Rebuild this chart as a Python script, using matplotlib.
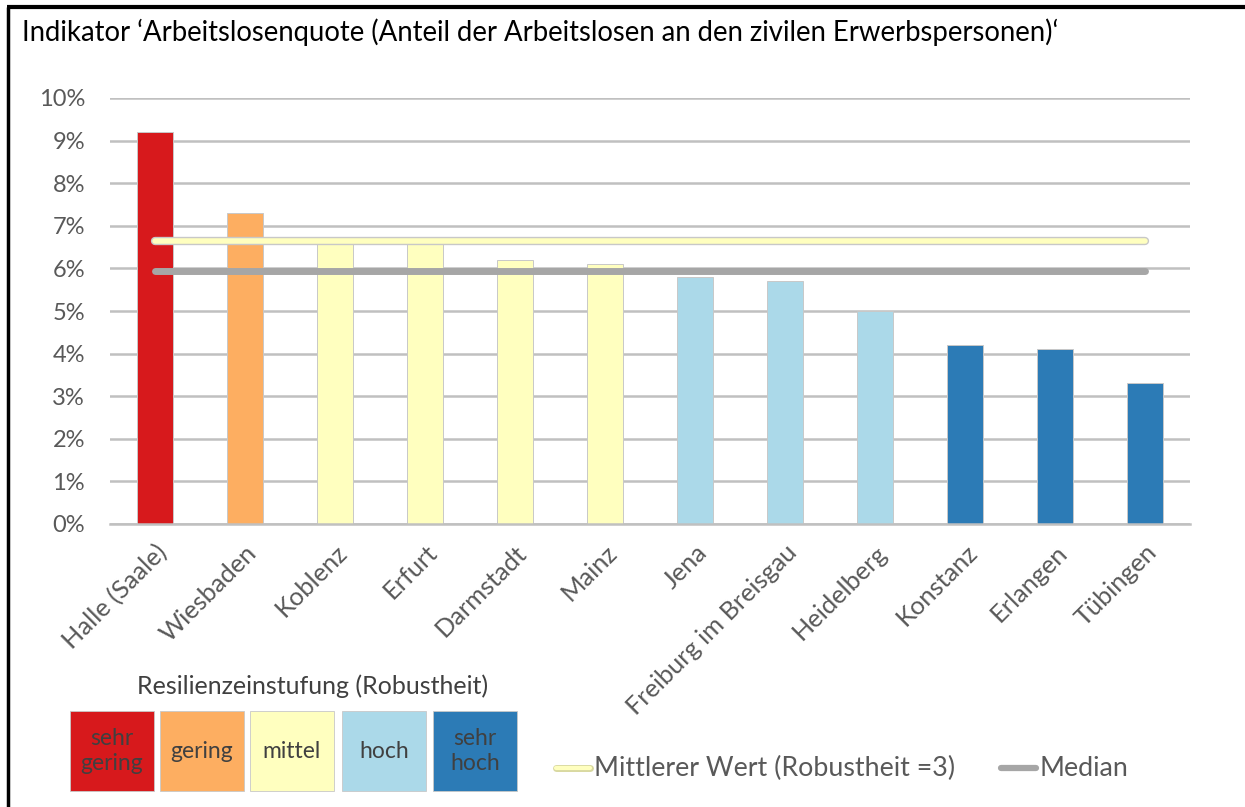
import matplotlib.pyplot as plt
import matplotlib.patheffects as pe
from matplotlib.patches import Rectangle
from matplotlib.lines import Line2D

plt.rcParams['font.family'] = ['Lato', 'DejaVu Sans']

# data
cities = ['Halle (Saale)', 'Wiesbaden', 'Koblenz', 'Erfurt', 'Darmstadt', 'Mainz',
          'Jena', 'Freiburg im Breisgau', 'Heidelberg', 'Konstanz', 'Erlangen', 'Tübingen']
quote = [9.2, 7.3, 6.6, 6.6, 6.2, 6.1, 5.8, 5.7, 5.0, 4.2, 4.1, 3.3]
stufe = [1, 2, 3, 3, 3, 3, 4, 4, 4, 5, 5, 5]
mittlerer_wert = 6.65
median_wert = 5.95

stufen_namen = ['sehr\ngering', 'gering', 'mittel', 'hoch', 'sehr\nhoch']
stufen_farben = ['#D7191C', '#FDAE61', '#FFFFBF', '#ABD9E9', '#2C7BB6']

W, H = 1245, 807
fig = plt.figure(figsize=(W / 100, H / 100), dpi=100)
ax = fig.add_axes([110 / W, (H - 524) / H, 1080 / W, 426 / H])

x = range(len(cities))
cols = [stufen_farben[s - 1] for s in stufe]
ax.bar(x, quote, width=0.4, color=cols, edgecolor='#C8C8C8', linewidth=0.7, zorder=2)

ax.plot([0, len(cities) - 1], [mittlerer_wert] * 2, color='#FFFFBF', lw=4, solid_capstyle='round',
        zorder=3, path_effects=[pe.Stroke(linewidth=6, foreground='#C8C8C8'), pe.Normal()])
ax.plot([0, len(cities) - 1], [median_wert] * 2, color='#A6A6A6', lw=5, solid_capstyle='round', zorder=3)

ax.set_xlim(-0.5, len(cities) - 0.5)
ax.set_ylim(0, 10)
ax.set_yticks(range(0, 11))
ax.set_yticklabels([f'{v}%' for v in range(0, 11)])
ax.yaxis.grid(True, color='#C0C0C0', lw=1.8, zorder=0)
ax.set_axisbelow(True)
for s in ['top', 'right', 'left']:
    ax.spines[s].set_visible(False)
ax.spines['bottom'].set_color('#C0C0C0')
ax.spines['bottom'].set_linewidth(1.8)
ax.tick_params(axis='both', length=0, labelsize=17, colors='#595959')
ax.tick_params(axis='y', pad=18)
ax.set_xticks(list(x))
ax.set_xticklabels(cities, rotation=45, ha='right', rotation_mode='anchor', fontsize=18.3)
ax.tick_params(axis='x', pad=12)

# title and frame lines
fig.text(22 / W, 1 - 32 / H, 'Indikator \u2018Arbeitslosenquote (Anteil der Arbeitslosen an den zivilen Erwerbspersonen)\u2018',
         fontsize=19.8, color='black', va='center', ha='left')
fig.add_artist(Line2D([8 / W, 8 / W], [0, 1 - 7 / H], color='black', lw=2.5, solid_capstyle='butt'))
fig.add_artist(Line2D([7 / W, 1.0], [1 - 7 / H, 1 - 7 / H], color='black', lw=3, solid_capstyle='butt'))

# Resilienz legend
fig.text(313 / W, 1 - 686 / H, 'Resilienzeinstufung (Robustheit)', fontsize=18, color='#404040',
         ha='center', va='center')
box_x = [70, 160, 250, 342, 433]
for bx, name, col in zip(box_x, stufen_namen, stufen_farben):
    fig.add_artist(Rectangle((bx / W, 1 - 791 / H), 84 / W, 80 / H, transform=fig.transFigure,
                             facecolor=col, edgecolor='#C8C8C8', lw=0.6))
    fig.text((bx + 42) / W, 1 - 751 / H, name, fontsize=16.5, color='#404040', ha='center', va='center',
             linespacing=1.2)

# line legend
fig.add_artist(Line2D([556 / W, 590 / W], [1 - 768 / H] * 2, color='#FFFFBF', lw=3, solid_capstyle='round',
                      path_effects=[pe.Stroke(linewidth=5, foreground='#D8D8A0'), pe.Normal()]))
fig.text(594 / W, 1 - 768 / H, 'Mittlerer Wert (Robustheit =3)', fontsize=19.3, color='#595959', va='center')
fig.add_artist(Line2D([1001 / W, 1036 / W], [1 - 768 / H] * 2, color='#A6A6A6', lw=4.5, solid_capstyle='round'))
fig.text(1039 / W, 1 - 768 / H, 'Median', fontsize=19.3, color='#595959', va='center')

fig.savefig('out.png', dpi=100, facecolor='white')
